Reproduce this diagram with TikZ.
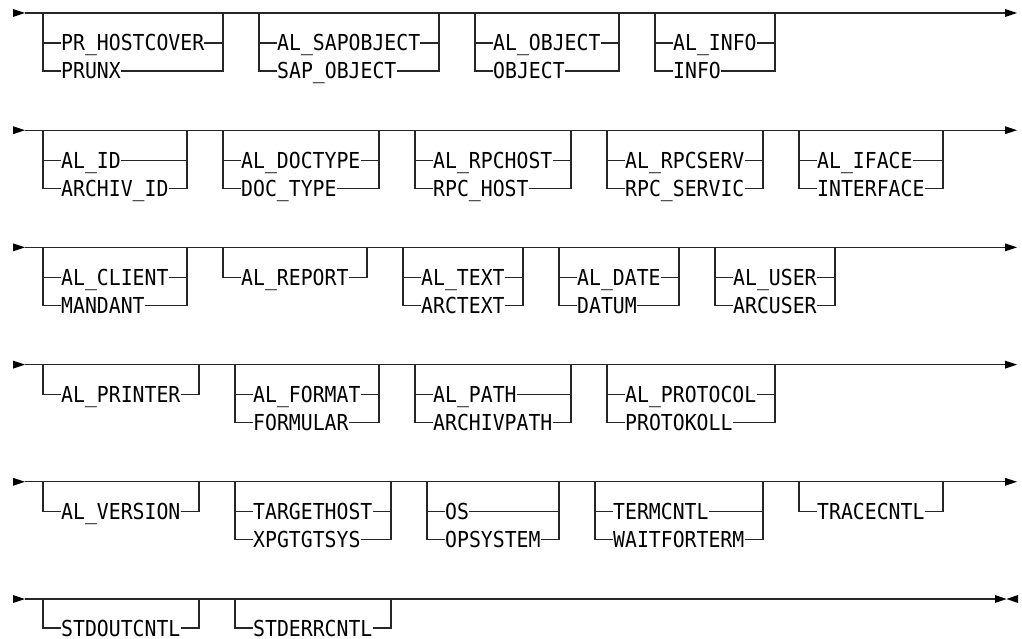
\documentclass[tikz,border=0pt]{standalone}
\usepackage{fontspec}
\newfontfamily\railfont[FakeStretch=0.9]{DejaVu Sans Mono}
\usetikzlibrary{calc}
\tikzset{
  rail/.style={line width=1.2pt, draw=black!85},
  opt/.style={font=\railfont\fontsize{22}{26}\selectfont, inner sep=0pt,
              text height=16pt, text depth=0pt, anchor=west},
  tipfill/.style={fill=black}
}
% two-option group: name, x left, y main, chars of longest, option 1, option 2
\newcommand\railtwo[6]{%
  \coordinate (#1-tl) at (#2,#3);
  \coordinate (#1-tr) at ({#2+12*#4+36},#3);
  \node[opt] (#1-a) at ({#2+18},{#3+30}) {#5};
  \node[opt] (#1-b) at ({#2+18},{#3+58}) {#6};
  \draw[rail] (#1-tl) |- (#1-a.west);
  \draw[rail] (#1-tl) |- (#1-b.west);
  \draw[rail] (#1-a.east) -| (#1-tr);
  \draw[rail] (#1-b.east) -| (#1-tr);
}
% one-option group: name, x left, y main, chars, option
\newcommand\railone[5]{%
  \coordinate (#1-tl) at (#2,#3);
  \coordinate (#1-tr) at ({#2+12*#4+36},#3);
  \node[opt] (#1-a) at ({#2+18},{#3+30}) {#5};
  \draw[rail] (#1-tl) |- (#1-a.west);
  \draw[rail] (#1-a.east) -| (#1-tr);
}
% main line with start arrow and continuation arrow
\newcommand\railrow[2]{%
  \coordinate (#1-s) at (25,#2);
  \coordinate (#1-e) at (1005,#2);
  \fill[tipfill] (13,{#2-4}) -- (13,{#2+4}) -- (#1-s) -- cycle;
  \draw[rail] (#1-s) -- (#1-e);
  \fill[tipfill] (1005,{#2-4}) -- (1005,{#2+4}) -- (1017,#2) -- cycle;
}
\begin{document}
\begin{tikzpicture}[x=1pt,y=-1pt]
\useasboundingbox (0,0) rectangle (1022,639);

% Row 1
\railrow{row1}{13}
\railtwo{r1a}{43}{13}{12}{PR\_HOSTCOVER}{PRUNX}
\railtwo{r1b}{259}{13}{12}{AL\_SAPOBJECT}{SAP\_OBJECT}
\railtwo{r1c}{475}{13}{9}{AL\_OBJECT}{OBJECT}
\railtwo{r1d}{655}{13}{7}{AL\_INFO}{INFO}

% Row 2
\railrow{row2}{130.2}
\railtwo{r2a}{43}{130.2}{9}{AL\_ID}{ARCHIV\_ID}
\railtwo{r2b}{223}{130.2}{10}{AL\_DOCTYPE}{DOC\_TYPE}
\railtwo{r2c}{415}{130.2}{10}{AL\_RPCHOST}{RPC\_HOST}
\railtwo{r2d}{607}{130.2}{10}{AL\_RPCSERV}{RPC\_SERVIC}
\railtwo{r2e}{799}{130.2}{9}{AL\_IFACE}{INTERFACE}

% Row 3
\railrow{row3}{247.4}
\railtwo{r3a}{43}{247.4}{9}{AL\_CLIENT}{MANDANT}
\railone{r3b}{223}{247.4}{9}{AL\_REPORT}
\railtwo{r3c}{403}{247.4}{7}{AL\_TEXT}{ARCTEXT}
\railtwo{r3d}{559}{247.4}{7}{AL\_DATE}{DATUM}
\railtwo{r3e}{715}{247.4}{7}{AL\_USER}{ARCUSER}

% Row 4
\railrow{row4}{364.6}
\railone{r4a}{43}{364.6}{10}{AL\_PRINTER}
\railtwo{r4b}{235}{364.6}{9}{AL\_FORMAT}{FORMULAR}
\railtwo{r4c}{415}{364.6}{10}{AL\_PATH}{ARCHIVPATH}
\railtwo{r4d}{607}{364.6}{11}{AL\_PROTOCOL}{PROTOKOLL}

% Row 5
\railrow{row5}{481.8}
\railone{r5a}{43}{481.8}{10}{AL\_VERSION}
\railtwo{r5b}{235}{481.8}{10}{TARGETHOST}{XPGTGTSYS}
\railtwo{r5c}{427}{481.8}{8}{OS}{OPSYSTEM}
\railtwo{r5d}{595}{481.8}{11}{TERMCNTL}{WAITFORTERM}
\railone{r5e}{799}{481.8}{9}{TRACECNTL}

% Row 6 (final)
\coordinate (row6-s) at (25,599);
\coordinate (row6-e) at (995,599);
\coordinate (row6-m) at (1006.5,599);
\fill[tipfill] (13,595) -- (13,603) -- (row6-s) -- cycle;
\draw[rail] (row6-s) -- (row6-e);
\fill[tipfill] (995,595) -- (995,603) -- (row6-m) -- cycle;
\fill[tipfill] (1018,595) -- (1018,603) -- (row6-m) -- cycle;
\railone{r6a}{43}{598}{10}{STDOUTCNTL}
\railone{r6b}{235}{598}{10}{STDERRCNTL}
\end{tikzpicture}
\end{document}
